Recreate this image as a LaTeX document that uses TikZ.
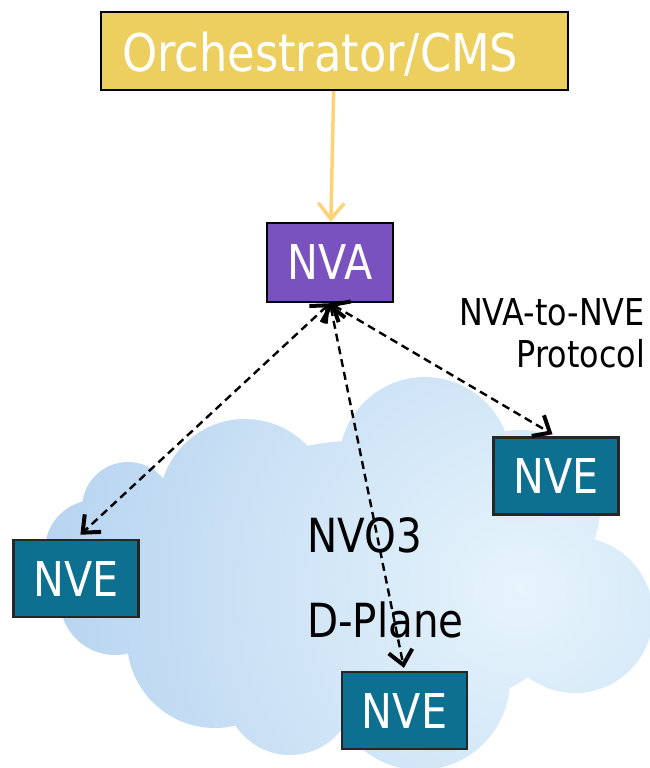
\documentclass[tikz,border=0pt]{standalone}
\usepackage{fontspec}
\setmainfont{DejaVu Sans}[FakeStretch=0.86]
\usetikzlibrary{arrows.meta}
\definecolor{orchfill}{HTML}{ECCF5E}
\definecolor{nvafill}{HTML}{7A52C0}
\definecolor{nvefill}{HTML}{0D7090}
\definecolor{feedline}{HTML}{FFD277}
\definecolor{cloudin}{HTML}{E6F4FC}
\definecolor{cloudout}{HTML}{A2C5EB}
\begin{document}
\begin{tikzpicture}[x=1pt,y=-1pt,
  box/.style={draw=black, line width=2.4pt, inner sep=0pt, text=white,
    font=\fontsize{48}{56}\selectfont},
  orchbox/.style={box, fill=orchfill, minimum width=467pt, minimum height=78pt,
    inner xsep=20pt, text width=425pt, align=left, font=\fontsize{52}{60}\selectfont},
  nvabox/.style={box, fill=nvafill, minimum width=126pt, minimum height=79pt},
  nvebox/.style={box, fill=nvefill, draw=black!85, minimum width=125pt, minimum height=77pt},
  feed/.style={draw=feedline, line width=3.5pt,
    -{Straight Barb[length=16pt, width=26pt, line width=3.5pt]}},
  proto/.style={dashed, dash pattern=on 8pt off 5pt, line width=2.4pt,
    {Straight Barb[length=14pt, width=24pt, line width=4pt]}-{Straight Barb[length=14pt, width=24pt, line width=4pt]}},
  lbl/.style={inner sep=0pt, font=\fontsize{37}{42}\selectfont},
  plane/.style={inner sep=0pt, font=\fontsize{47}{52}\selectfont}
]
\useasboundingbox (0,0) rectangle (650,768);

% overlay cloud: union of round lobes, filled with a soft radial shading
\begin{scope}
  \clip (425,463) circle (86pt)   % big top lobe
        (245,505) circle (86pt)   % second top lobe
        (128,508) circle (46pt)   % small upper-left lobe
        (95,550)  circle (50pt)   % far left
        (170,560) circle (58pt)   % left filler
        (115,600) circle (55pt)   % lower left
        (215,640) circle (88pt)   % bottom left
        (290,690) circle (65pt)   % bottom
        (420,680) circle (90pt)   % bottom middle
        (575,615) circle (78pt)   % right
        (520,510) circle (80pt)   % upper right
        (370,580) ellipse (220pt and 140pt);
  \shade[inner color=cloudin, outer color=cloudout] (520,590) circle (700pt);
\end{scope}

% boxes
\node[orchbox] (orch) at (334.5,51) {\raisebox{-3pt}[\height][\depth]{Orchestrator/CMS}};
\node[nvabox] (nva) at (330,262.5) {NVA};
\node[nvebox] (nveR) at (556,476) {NVE};
\node[nvebox] (nveL) at (76,578.5) {NVE};
\node[nvebox] (nveB) at (404.5,710.5) {NVE};

% labels
\node[lbl, anchor=base east] (protoA) at (645,325) {NVA-to-NVE};
\node[lbl, anchor=base east] (protoB) at (645,367) {Protocol};
\node[plane, anchor=base west] (dplA) at (307,552) {NVO3};
\node[plane, anchor=base west] (dplB) at (307,637) {D-Plane};

% connectors
\draw[feed] (orch) -- (nva);
\draw[proto, shorten >=6pt] (nva.south) -- (nveL.north);
\draw[proto, shorten >=3pt] (nva.south) -- (nveB.north);
\draw[proto, shorten >=4pt] (nva.south) -- (nveR.north);
\end{tikzpicture}
\end{document}
